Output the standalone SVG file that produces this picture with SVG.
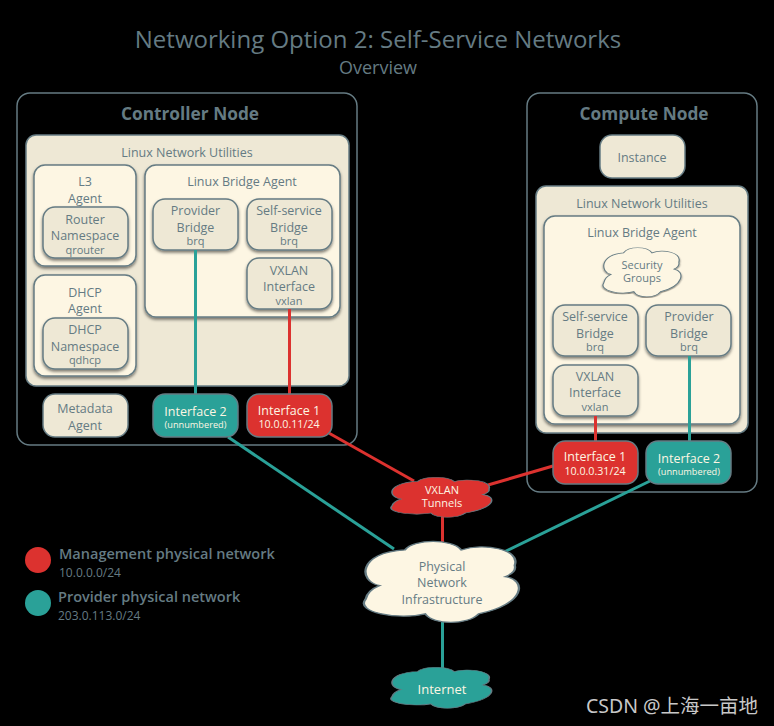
<svg xmlns="http://www.w3.org/2000/svg" width="774" height="726" viewBox="0 0 774 726">
<style>
text{font-family:"Open Sans","Noto Sans",sans-serif;fill:#657b83;text-anchor:middle;font-size:12.5px}
.t{font-size:24px}.st{font-size:18px}.h{font-size:17.300px;font-weight:700}
.s{font-size:11px}.u{font-size:9.200px}.i{font-size:10.700px}.w{fill:#fdf6e3}.sm{font-size:11px}
.k{fill:none;stroke:#657b83;stroke-width:1.5}
.b{fill:#eee8d5;stroke:#657b83;stroke-width:1.5}
.l{fill:#fdf6e3;stroke:#657b83;stroke-width:1.5}
.r{fill:#dc322f;stroke:#657b83;stroke-width:1.5}
.g{fill:#2aa198;stroke:#657b83;stroke-width:1.5}
.sh{filter:url(#ds)}
.cr{stroke:#dc322f;stroke-width:3;fill:none}.cg{stroke:#2aa198;stroke-width:3;fill:none}
.c{vector-effect:non-scaling-stroke}
.lg{text-anchor:start;font-size:14.5px;font-weight:600}.ls{text-anchor:start;font-size:12px}
</style>
<defs>
<filter id="ds" x="-15%" y="-15%" width="130%" height="135%"><feDropShadow dx="0" dy="2" stdDeviation="1.5" flood-color="#000" flood-opacity=".5"/></filter>
<path id="cloud" d="M10 55C-4 50-4 14 26 11C32-3 56-3 62 11C76 2 100 10 96 30C97 36 94 41 90 44C104 48 103 78 73 90C66 104 44 104 39 90C22 98-6 88 1 72C2 64 6 58 10 55Z"/>
</defs>
<rect width="774" height="726" fill="#000"/>
<text class="t" x="378" y="48">Networking Option 2: Self-Service Networks</text>
<text class="st" x="378" y="74">Overview</text>

<g id="controller-node">
<rect class="k" x="17" y="93" width="340" height="352" rx="13"/>
<text class="h" x="190" y="120">Controller Node</text>
</g>
<g id="compute-node">
<rect class="k" x="527" y="93" width="230" height="399" rx="13"/>
<text class="h" x="644" y="120">Compute Node</text>
</g>

<g id="controller-utilities">
<rect class="b sh" x="26" y="135" width="323" height="251" rx="10"/>
<text x="187" y="157">Linux Network Utilities</text>
</g>
<g id="l3-agent">
<rect class="l sh" x="34" y="165" width="102" height="101" rx="11"/>
<text x="85" y="186">L3</text><text x="85" y="203">Agent</text>
</g>
<g id="router-namespace">
<rect class="b sh" x="43" y="207" width="85" height="51" rx="12"/>
<text x="85" y="224">Router</text><text x="85" y="240">Namespace</text><text class="s" x="85" y="254">qrouter</text>
</g>
<g id="dhcp-agent">
<rect class="l sh" x="34" y="275" width="102" height="101" rx="11"/>
<text x="85" y="297">DHCP</text><text x="85" y="313">Agent</text>
</g>
<g id="dhcp-namespace">
<rect class="b sh" x="43" y="318" width="85" height="51" rx="12"/>
<text x="85" y="334">DHCP</text><text x="85" y="351">Namespace</text><text class="s" x="85" y="364">qdhcp</text>
</g>
<g id="controller-lba">
<rect class="l sh" x="145" y="165" width="195" height="152" rx="11"/>
<text x="242" y="186">Linux Bridge Agent</text>
</g>
<g id="controller-provider-bridge">
<rect class="b sh" x="153" y="199" width="85" height="51" rx="12"/>
<text x="195.500" y="215">Provider</text><text x="195.500" y="232">Bridge</text><text class="s" x="195.500" y="245">brq</text>
</g>
<g id="controller-selfservice-bridge">
<rect class="b sh" x="247" y="199" width="85" height="51" rx="12"/>
<text x="289" y="215">Self-service</text><text x="289" y="232">Bridge</text><text class="s" x="289" y="245">brq</text>
</g>
<g id="controller-vxlan">
<rect class="b sh" x="247" y="258" width="85" height="51" rx="12"/>
<text x="289" y="275">VXLAN</text><text x="289" y="291">Interface</text><text class="s" x="289" y="305">vxlan</text>
</g>
<g id="metadata-agent">
<rect class="b" x="43" y="394" width="85" height="43" rx="12"/>
<text x="85" y="413">Metadata</text><text x="85" y="430">Agent</text>
</g>

<g id="compute-instance">
<rect class="b" x="600" y="135" width="85" height="43" rx="12"/>
<text x="642" y="162">Instance</text>
</g>
<g id="compute-utilities">
<rect class="b sh" x="536" y="186" width="212" height="247" rx="10"/>
<text x="642" y="208">Linux Network Utilities</text>
</g>
<g id="compute-lba">
<rect class="l sh" x="544" y="216" width="196" height="208" rx="11"/>
<text x="642" y="237">Linux Bridge Agent</text>
</g>
<g id="security-groups">
<use href="#cloud" class="l c sh" transform="translate(603 247.500) scale(.79 .49)"/>
<text class="sm" x="642" y="269">Security</text><text class="sm" x="642" y="282">Groups</text>
</g>
<g id="compute-selfservice-bridge">
<rect class="b sh" x="553" y="305" width="85" height="51" rx="12"/>
<text x="595" y="321">Self-service</text><text x="595" y="338">Bridge</text><text class="s" x="595" y="351">brq</text>
</g>
<g id="compute-provider-bridge">
<rect class="b sh" x="646" y="305" width="85" height="51" rx="12"/>
<text x="689" y="321">Provider</text><text x="689" y="338">Bridge</text><text class="s" x="689" y="351">brq</text>
</g>
<g id="compute-vxlan">
<rect class="b sh" x="553" y="365" width="85" height="51" rx="12"/>
<text x="595" y="381">VXLAN</text><text x="595" y="397">Interface</text><text class="s" x="595" y="411">vxlan</text>
</g>

<g id="connectors">
<path class="cg" d="M195.500 250V394"/>
<path class="cr" d="M289.500 309V394"/>
<path class="cr" d="M595.500 416V441"/>
<path class="cg" d="M689.500 356V441"/>
<path class="cr" d="M327 432L414 481"/>
<path class="cg" d="M228 437L394 549"/>
<path class="cr" d="M553 466L488 485"/>
<path class="cg" d="M650 481L504 552"/>
<path class="cr" d="M442.500 516V542"/>
<path class="cg" d="M442.500 621V668"/>
</g>

<g id="controller-interface-2">
<rect class="g" x="153" y="394" width="85" height="43" rx="12"/>
<text class="w" x="195.500" y="416">Interface 2</text><text class="w u" x="195.500" y="428">(unnumbered)</text>
</g>
<g id="controller-interface-1">
<rect class="r" x="247" y="394" width="85" height="43" rx="12"/>
<text class="w" x="289" y="415">Interface 1</text><text class="w i" x="289" y="428">10.0.0.11/24</text>
</g>
<g id="compute-interface-1">
<rect class="r" x="553" y="441" width="85" height="43" rx="12"/>
<text class="w" x="595" y="461">Interface 1</text><text class="w i" x="595" y="475">10.0.0.31/24</text>
</g>
<g id="compute-interface-2">
<rect class="g" x="646" y="441" width="85" height="43" rx="12"/>
<text class="w" x="689" y="463">Interface 2</text><text class="w u" x="689" y="475">(unnumbered)</text>
</g>

<g id="vxlan-tunnels">
<use href="#cloud" class="r c" transform="translate(391 477) scale(1.02 .4)"/>
<text class="w sm" x="442" y="494">VXLAN</text><text class="w sm" x="442" y="507">Tunnels</text>
</g>
<g id="physical-network">
<use href="#cloud" class="l c" transform="translate(364 541) scale(1.57 .81)"/>
<text x="442" y="571">Physical</text><text x="442" y="587">Network</text><text x="442" y="604">Infrastructure</text>
</g>
<g id="internet">
<use href="#cloud" class="g c" transform="translate(391 667) scale(1.02 .41)"/>
<text class="w" x="442" y="694" style="font-size:13px">Internet</text>
</g>

<g id="legend">
<circle cx="38" cy="560" r="13" fill="#dc322f"/>
<circle cx="38" cy="603" r="13" fill="#2aa198"/>
<text class="lg" x="59" y="559">Management physical network</text>
<text class="ls" x="59" y="577">10.0.0.0/24</text>
<text class="lg" x="58" y="602">Provider physical network</text>
<text class="ls" x="58" y="620">203.0.113.0/24</text>
</g>
<text x="672" y="713" style="font-family:'Noto Sans','Noto Sans CJK SC',sans-serif;font-size:19.500px;fill:#c8c8c8">CSDN @上海一亩地</text>
</svg>
